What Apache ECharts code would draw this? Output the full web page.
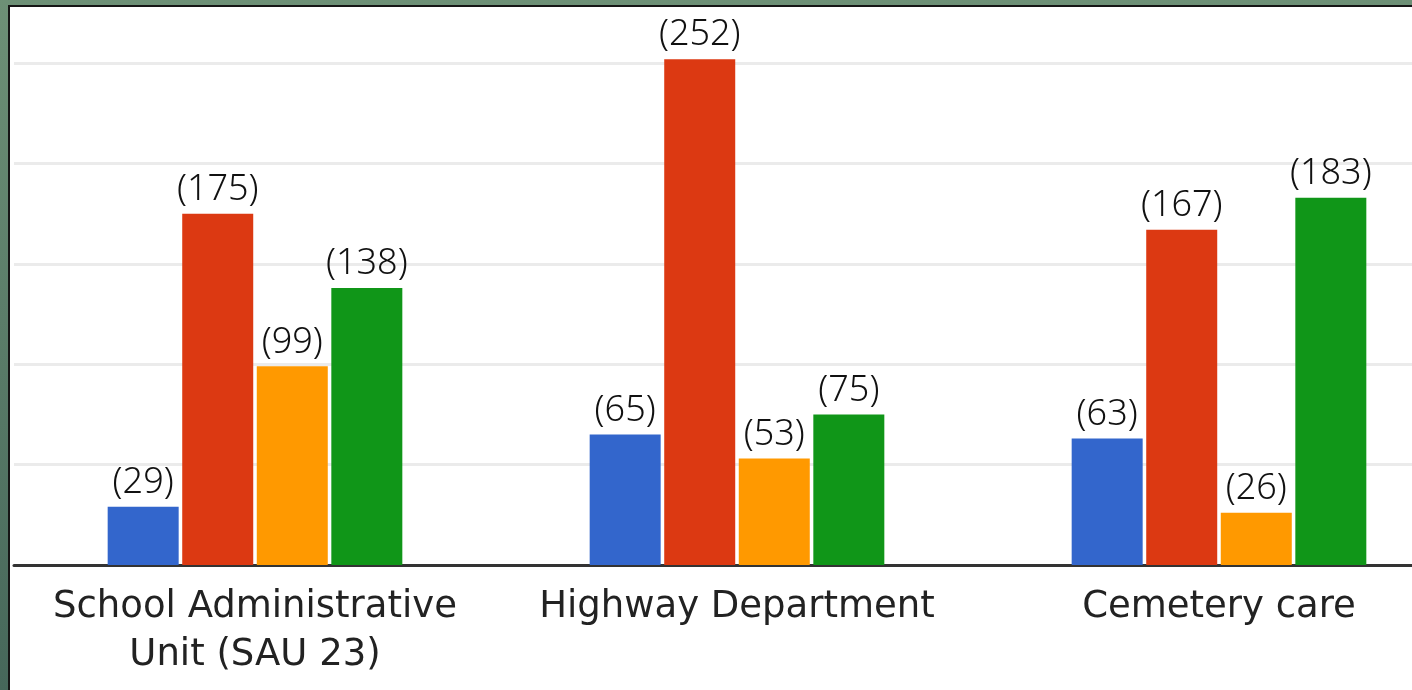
<!DOCTYPE html>
<html>
<head>
<meta charset="utf-8">
<script src="https://cdn.jsdelivr.net/npm/echarts@6/dist/echarts.min.js"></script>
<style>
    html, body {
        margin: 0;
        padding: 0;
        width: 1412px;
        height: 690px;
        overflow: hidden;
        background: linear-gradient(#6d9076, #46675a);
    }
    .frame {
        position: absolute;
        left: 8px;
        top: 5px;
        width: 1404px;
        height: 685px;
        border-left: 2px solid #151515;
        border-top: 2px solid #151515;
        background: #fff;
        box-sizing: border-box;
        overflow: hidden;
    }
    /* 原图右侧被裁切, 图表比可见区域宽 */
    #bar-group {
        width: 1450px;
        height: 683px;
    }
</style>
</head>
<body>
<div class="frame">
    <div id="bar-group"></div>
</div>
<script>
// 类别
const categories = ['School Administrative\nUnit (SAU 23)', 'Highway Department', 'Cemetery care'];
// 各系列数值
const blueValues = [29, 65, 63];
const redValues = [175, 252, 167];
const orangeValues = [99, 53, 26];
const greenValues = [138, 75, 183];
// Y轴刻度
const yMax = 278;
const yInterval = 50;

const seriesList = [
    { name: 'A', data: blueValues, color: '#3366cc' },
    { name: 'B', data: redValues, color: '#dc3912' },
    { name: 'C', data: orangeValues, color: '#ff9900' },
    { name: 'D', data: greenValues, color: '#109618' }
];

let myChart = echarts.init(document.getElementById('bar-group'));

let option = {
    animation: false,
    grid: {
        left: 4,
        right: 0,
        top: 0,
        bottom: 125,
        containLabel: false
    },
    xAxis: {
        type: 'category',
        data: categories,
        axisTick: { show: false },
        axisLine: {
            lineStyle: { color: '#333', width: 3 }
        },
        axisLabel: {
            margin: 18,
            color: '#222',
            fontFamily: 'DejaVu Sans',
            fontSize: 37,
            lineHeight: 48,
            interval: 0
        }
    },
    yAxis: {
        type: 'value',
        min: 0,
        max: yMax,
        interval: yInterval,
        axisLabel: { show: false },
        axisLine: { show: false },
        axisTick: { show: false },
        splitLine: {
            showMaxLine: false,
            lineStyle: { color: '#ebebeb', width: 3 }
        }
    },
    series: seriesList.map(function (s) {
        return {
            name: s.name,
            type: 'bar',
            data: s.data,
            barWidth: 71,
            barGap: '5%',
            itemStyle: { color: s.color },
            label: {
                show: true,
                position: 'top',
                distance: 6,
                formatter: '({c})',
                color: '#111',
                fontFamily: 'Noto Sans',
                fontWeight: 300,
                fontSize: 36
            }
        };
    })
};

myChart.setOption(option);
</script>
</body>
</html>
